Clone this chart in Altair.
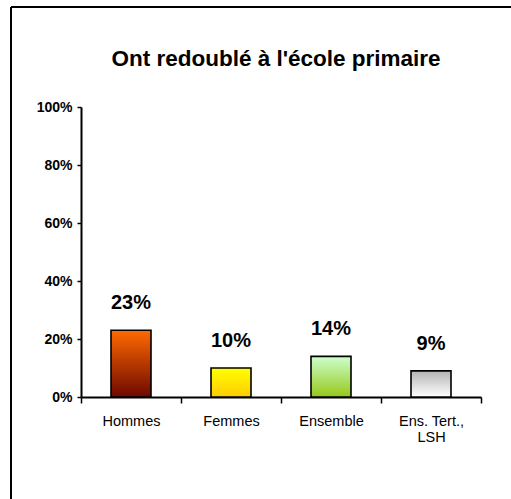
import altair as alt
import pandas as pd

# Share of respondents who repeated a year in primary school
title_text = "Ont redoublé à l'école primaire"
categories = ["Hommes", "Femmes", "Ensemble", "Ens. Tert.,|LSH"]
values = [0.23, 0.10, 0.14, 0.09]
labels = ["23%", "10%", "14%", "9%"]

# top -> bottom gradient colours, one per bar
gradients = {
    "Hommes": ("#FF6A00", "#6E0800"),
    "Femmes": ("#FFFF00", "#FFCC00"),
    "Ensemble": ("#CCFFCC", "#96C81A"),
    "Ens. Tert.,|LSH": ("#B4B4B4", "#FFFFFF"),
}

df = pd.DataFrame({"cat": categories, "val": values, "lab": labels})

FONT = "Liberation Sans"

x_enc = alt.X(
    "cat:N",
    sort=categories,
    scale=alt.Scale(paddingInner=0, paddingOuter=0),
    axis=alt.Axis(
        title=None,
        labelAngle=0,
        labelFont=FONT,
        labelFontSize=14.5,
        labelColor="black",
        labelLineHeight=16,
        labelPadding=11,
        labelExpr="split(datum.label, '|')",
        tickBand="extent",
        tickSize=6,
        tickWidth=1.5,
        tickColor="black",
        domainColor="black",
        domainWidth=2,
    ),
)
y_enc = alt.Y(
    "val:Q",
    scale=alt.Scale(domain=[0, 1]),
    axis=alt.Axis(
        title=None,
        values=[0, 0.2, 0.4, 0.6, 0.8, 1.0],
        format=".0%",
        grid=False,
        labelFont=FONT,
        labelFontSize=14,
        labelFontWeight="bold",
        labelColor="black",
        labelPadding=5,
        tickSize=4,
        tickWidth=1.5,
        tickColor="black",
        domainColor="black",
        domainWidth=2,
    ),
)

base = alt.Chart(df)

bar_layers = []
for cat in categories:
    top, bottom = gradients[cat]
    bar_layers.append(
        base.transform_filter(alt.datum.cat == cat)
        .mark_bar(
            width=alt.RelativeBandSize(0.4),
            stroke="black",
            strokeWidth=1.6,
            color=alt.Gradient(
                gradient="linear",
                x1=0, x2=0, y1=0, y2=1,
                stops=[
                    alt.GradientStop(color=top, offset=0),
                    alt.GradientStop(color=bottom, offset=1),
                ],
            ),
        )
        .encode(x=x_enc, y=y_enc)
    )

text = base.mark_text(
    font=FONT, fontSize=20, fontWeight="bold", color="black",
    baseline="middle", dy=-27,
).encode(x=x_enc, y=y_enc, text="lab:N")

# chart heading, centred over the plot
title = alt.Chart(pd.DataFrame({"t": [title_text]})).mark_text(
    font=FONT, fontSize=22.5, fontWeight="bold", color="black",
    baseline="alphabetic", align="center",
).encode(x=alt.value(195), y=alt.value(-41), text="t:N")

# outer frame: top and left edges
frame_top = base.mark_rule(color="black", strokeWidth=2).encode(
    x=alt.value(-70), x2=alt.value(450), y=alt.value(-100)
)
frame_left = base.mark_rule(color="black", strokeWidth=2).encode(
    x=alt.value(-70), y=alt.value(-100), y2=alt.value(410)
)

chart = alt.layer(frame_top, frame_left, title, *bar_layers, text).properties(
    width=400,
    height=290,
    background="white",
    autosize=alt.AutoSizeParams(type="none"),
    padding={"left": 81, "top": 107, "right": 30, "bottom": 102},
).configure_view(strokeWidth=0, stroke="transparent")

chart.save("out.html", embed_options={"renderer": "svg", "actions": False})
